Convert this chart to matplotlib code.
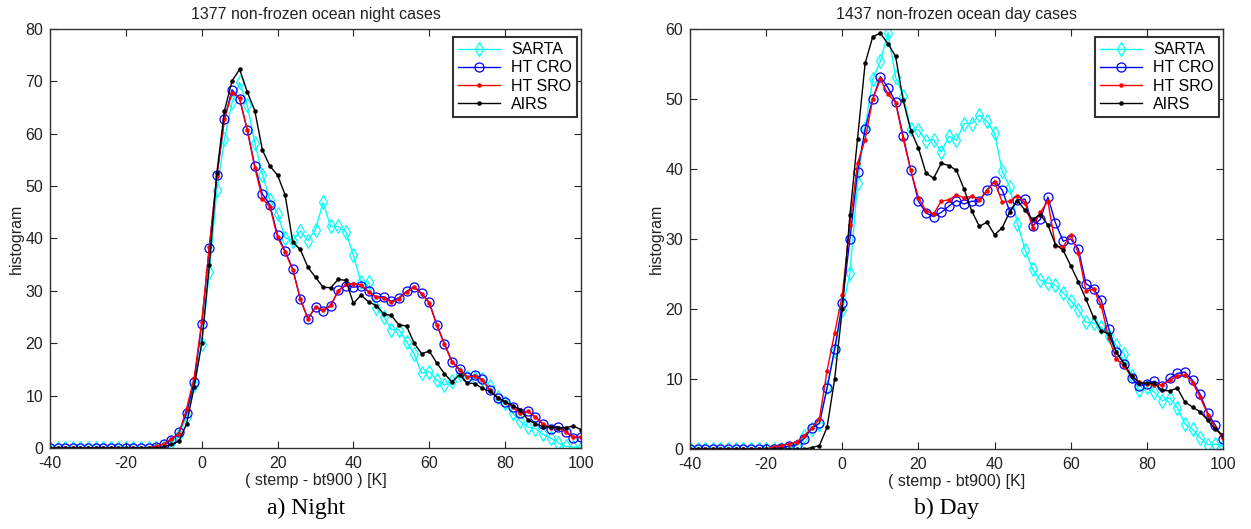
import numpy as np
import matplotlib
matplotlib.use("Agg")
import matplotlib.pyplot as plt

plt.rcParams['font.family'] = ['Liberation Sans', 'DejaVu Sans']
plt.rcParams['axes.unicode_minus'] = False

# ---------------- data ----------------
bins = list(range(-40, 101, 2))  # (stemp - bt900) [K]

series_names = ["SARTA", "HT CRO", "HT SRO", "AIRS"]

night_sarta = [0]*15 + [0.2, 1.0, 2.5, 6.0, 12.0,
               19.8, 33.6, 49.2, 59.0, 66.0,
               69.8, 65.5, 58.3, 52.2, 47.4,
               44.7, 40.1, 39.6, 41.5, 39.6,
               41.7, 46.9, 42.3, 42.3, 41.3,
               36.8, 31.6, 31.7, 26.8, 25.1,
               22.6, 22.6, 20.3, 18.0, 14.3,
               14.6, 12.9, 12.0, 12.8, 14.2,
               13.6, 13.4, 13.2, 11.8, 9.8,
               8.6, 6.7, 5.1, 4.0, 3.7,
               2.6, 1.9, 1.0, 0.3, 0.2, 0.0]
night_htcro = [0]*14 + [0.2, 0.8, 1.5, 3.0, 6.7, 12.6,
               23.6, 38.2, 52.1, 62.8, 68.4,
               66.6, 60.8, 53.9, 48.5, 46.4,
               40.6, 37.6, 34.2, 28.4, 24.7,
               26.9, 26.2, 27.1, 30.1, 31.0,
               30.7, 30.9, 29.9, 28.8, 28.9,
               28.0, 28.7, 29.9, 30.8, 29.5,
               27.8, 23.5, 19.9, 16.5, 15.0,
               13.6, 13.9, 13.1, 11.0, 9.6,
               8.8, 7.8, 6.7, 7.0, 5.9,
               4.5, 3.7, 4.1, 3.1, 2.0, 2.1]
night_htsro = [0]*14 + [0.3, 0.8, 1.8, 2.7, 7.5, 13.4,
               24.1, 38.4, 51.9, 62.8, 67.8,
               66.8, 60.7, 53.5, 47.6, 46.0,
               40.2, 37.4, 34.0, 28.5, 24.6,
               27.0, 26.3, 27.3, 29.9, 31.3,
               31.3, 31.2, 29.8, 28.8, 28.7,
               27.8, 28.5, 29.8, 30.7, 29.4,
               27.7, 23.4, 19.8, 16.4, 14.9,
               13.5, 13.8, 13.0, 11.1, 9.6,
               8.8, 7.9, 6.6, 7.0, 5.9,
               4.6, 3.9, 3.9, 3.0, 2.1, 2.1]
night_airs = [0]*15 + [0.2, 0.7, 1.3, 4.6, 11.6,
              20.0, 34.9, 52.6, 64.4, 70.1,
              72.3, 68.0, 64.4, 56.9, 53.8,
              52.1, 48.3, 39.3, 37.9, 34.5,
              32.6, 30.7, 30.6, 32.2, 32.0,
              27.6, 29.2, 27.9, 27.2, 25.6,
              25.3, 23.5, 23.3, 20.0, 18.0,
              18.5, 16.2, 14.2, 12.6, 14.0,
              12.4, 12.3, 11.4, 10.8, 9.6,
              8.8, 8.1, 7.3, 5.4, 4.6,
              4.1, 4.0, 3.9, 3.9, 4.2, 3.5]

day_sarta = [0]*14 + [0.5, 1.8, 2.8, 3.6, 8.8, 14.0,
             19.9, 25.1, 38.0, 45.8, 52.8,
             55.4, 59.5, 53.1, 50.5, 45.7,
             45.6, 44.0, 44.2, 42.4, 44.7,
             44.1, 46.5, 46.5, 47.7, 46.8,
             45.1, 39.7, 37.4, 32.2, 28.5,
             25.7, 24.1, 23.7, 23.4, 22.3,
             21.2, 19.9, 18.1, 18.0, 17.4,
             16.2, 14.8, 13.6, 10.4, 8.4,
             8.8, 8.1, 6.9, 7.3, 5.9,
             3.6, 2.8, 1.6, 0.6, 0.7, 0.4]
day_htcro = [0]*12 + [0.2, 0.4, 0.6, 1.5, 3.0, 3.7, 8.7, 14.3,
             20.8, 30.0, 39.6, 45.7, 50.0,
             53.2, 51.6, 49.6, 44.7, 39.8,
             35.4, 33.7, 33.2, 33.8, 34.7,
             35.5, 35.0, 35.4, 35.4, 37.0,
             38.3, 37.0, 33.9, 35.6, 35.7,
             31.9, 32.8, 36.0, 32.3, 29.7,
             30.0, 28.6, 23.6, 22.9, 21.3,
             17.2, 13.8, 12.2, 10.1, 9.0,
             9.3, 9.7, 9.0, 10.1, 10.8,
             11.0, 9.8, 7.8, 5.1, 3.4, 1.4]
day_htsro = [0]*11 + [0.3, 0.5, 0.7, 1.0, 1.9, 3.0, 4.3, 11.2, 16.6,
             22.0, 32.0, 40.8, 44.2, 50.0,
             52.8, 50.7, 49.5, 44.3, 39.8,
             35.9, 34.0, 33.6, 35.4, 35.6,
             36.3, 35.9, 36.1, 35.6, 36.9,
             38.2, 35.3, 35.4, 36.2, 35.2,
             31.6, 33.8, 35.4, 29.0, 28.9,
             30.6, 28.0, 22.6, 22.8, 20.5,
             15.8, 12.9, 11.8, 10.4, 9.6,
             9.3, 9.1, 9.2, 9.8, 10.5,
             10.6, 9.5, 7.4, 4.9, 3.0, 1.6]
day_airs = [0]*16 + [0.2, 0.5, 3.1, 10.0,
            20.0, 33.4, 44.3, 55.1, 58.9,
            59.4, 57.9, 56.1, 49.8, 45.5,
            43.0, 39.4, 38.7, 40.8, 40.5,
            39.8, 37.1, 34.0, 31.8, 32.4,
            30.6, 31.6, 33.9, 35.5, 34.1,
            32.8, 33.5, 32.0, 29.2, 28.4,
            26.2, 23.9, 21.4, 18.8, 16.9,
            16.4, 13.8, 12.2, 10.4, 9.5,
            9.4, 9.4, 8.4, 8.3, 8.7,
            6.7, 6.0, 5.3, 4.1, 2.8, 2.0]

titles = ["1377 non-frozen ocean night cases", "1437 non-frozen ocean day cases"]
xlabels = ["( stemp - bt900 ) [K]", "( stemp - bt900) [K]"]
captions = ["a) Night", "b) Day"]
ylims = [80, 60]

# ---------------- figure ----------------
W, H = 1251, 529
fig = plt.figure(figsize=(W/100, H/100), dpi=100)

axes_px = [(50, 29, 581, 448), (690, 29, 1223, 449)]
styles = [
    dict(color=(0, 1, 1), marker='d', markersize=7, markerfacecolor='none', markeredgewidth=0.9, lw=1.0),
    dict(color=(0, 0, 1), marker='o', markersize=6.5, markerfacecolor='none', markeredgewidth=0.9, lw=1.0),
    dict(color=(1, 0, 0), marker='.', markersize=4.5, lw=1.0),
    dict(color=(0, 0, 0), marker='.', markersize=4.5, lw=1.0),
]
panels = [
    [night_sarta, night_htcro, night_htsro, night_airs],
    [day_sarta, day_htcro, day_htsro, day_airs],
]
caption_x = [306, 947]

for i in range(2):
    l, t, r, b = axes_px[i]
    ax = fig.add_axes([l/W, 1 - b/H, (r-l)/W, (b-t)/H])
    for name, vals, st in zip(series_names, panels[i], styles):
        assert len(vals) == len(bins), (name, len(vals))
        ax.plot(bins, vals, label=name, **st)
    ax.set_xlim(-40, 100)
    ax.set_ylim(0, ylims[i])
    ax.set_xticks(range(-40, 101, 20))
    ax.set_yticks(range(0, ylims[i] + 1, 10))
    ax.tick_params(direction='in', top=True, right=True, length=5, width=0.8,
                   labelsize=11.5, colors='#222222')
    ax.tick_params(axis='x', pad=6)
    ax.tick_params(axis='y', pad=5)
    for s in ax.spines.values():
        s.set_color('#333333')
        s.set_linewidth(1.0)
    ax.set_title(titles[i], fontsize=11.5, pad=7, color='#222222')
    ax.set_xlabel(xlabels[i], fontsize=11.5, color='#222222', labelpad=1)
    ax.set_ylabel("histogram", fontsize=11.5, color='#222222', labelpad=1)
    leg = ax.legend(loc='upper right', bbox_to_anchor=(0.993, 0.982), fontsize=11.5,
                    frameon=True, fancybox=False, framealpha=1, edgecolor='#333333',
                    handlelength=2.6, labelspacing=0.2, borderpad=0.35,
                    handletextpad=0.7, borderaxespad=0.0)
    leg.get_frame().set_linewidth(1.5)
    fig.text(caption_x[i]/W, 1 - 508/H, captions[i], ha='center', va='center',
             fontsize=17, family='Liberation Serif')

fig.savefig("out.png", dpi=100)
